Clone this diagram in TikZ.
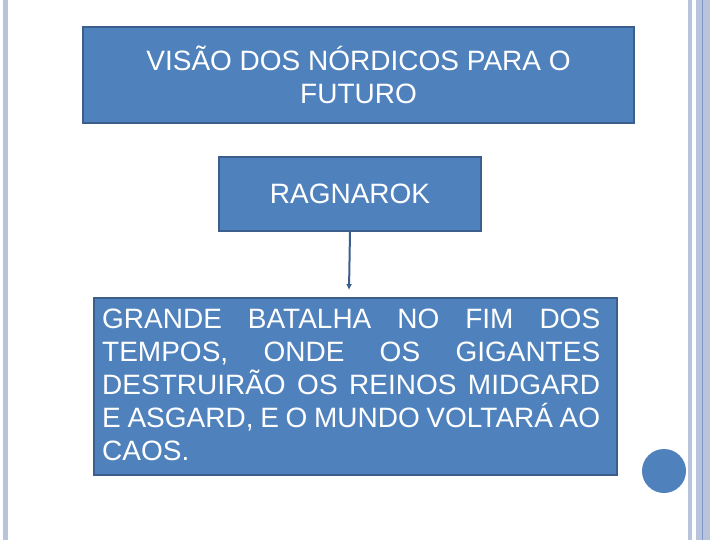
\documentclass[tikz,border=0pt]{standalone}
\usepackage{fontspec}
\usetikzlibrary{arrows.meta}
\setmainfont{Liberation Sans}
\definecolor{boxfill}{HTML}{4F81BD}
\definecolor{boxline}{HTML}{3B5E8C}
\definecolor{barc}{HTML}{B7C4DC}
\definecolor{barline}{HTML}{7F98C2}
\begin{document}
\begin{tikzpicture}[x=1pt,y=-1pt,
  bluebox/.style={draw=boxline,line width=2pt,fill=boxfill,text=white,inner sep=0pt},
  conn/.style={draw=boxline,line width=2pt,-{Latex[length=6pt,width=6pt]}},
  bigtext/.style={font=\fontsize{28}{33}\selectfont}]
\useasboundingbox (0,0) rectangle (720,540);
\fill[white] (0,0) rectangle (720,540);
% decorative bars
\fill[barc] (3,0) rectangle (8,540);
\fill[barc] (688,0) rectangle (692,540);
\fill[barc] (696,0) rectangle (710,540);
\draw[barline,line width=0.8pt] (702.5,0) -- (702.5,540);
% circle
\fill[boxfill] (664,471) circle (22);
% boxes
\node[bluebox,minimum width=551pt,minimum height=96pt,anchor=north west,
  align=center,bigtext] (title) at (82,26)
  {VISÃO DOS NÓRDICOS PARA O\\FUTURO};
\node[bluebox,minimum width=262pt,minimum height=74pt,anchor=north west,
  bigtext] (rag) at (218,156) {RAGNAROK};
\node[bluebox,minimum width=523pt,minimum height=177pt,anchor=north west] (desc) at (93,297) {};
\node[anchor=north west,inner sep=0pt,text=white,text width=498pt,align=justify,
  bigtext] (desctext) at (102,309)
  {GRANDE BATALHA NO FIM DOS\linebreak TEMPOS, ONDE OS GIGANTES\linebreak DESTRUIRÃO OS REINOS MIDGARD\linebreak E ASGARD, E O MUNDO VOLTARÁ AO\linebreak CAOS.};
\coordinate (tip) at (349,290);
\draw[conn] (rag.south) -- (tip);
\end{tikzpicture}
\end{document}
